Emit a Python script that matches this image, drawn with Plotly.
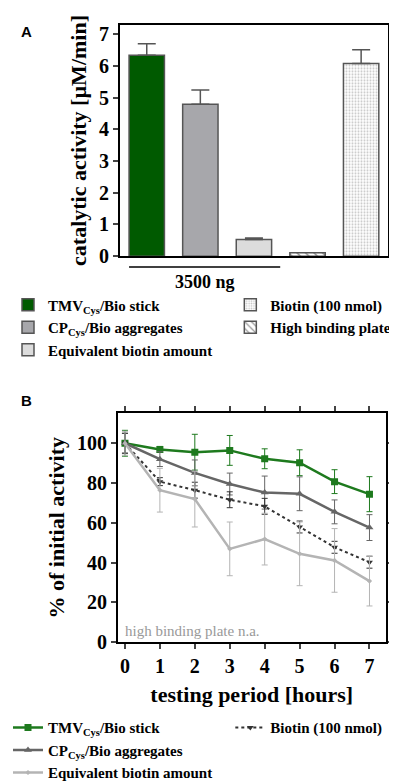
import plotly.graph_objects as go

# panel A: bars
bar_names = ['TMV<sub>Cys</sub>/Bio stick', 'CP<sub>Cys</sub>/Bio aggregates',
             'Equivalent biotin amount', 'High binding plate', 'Biotin (100 nmol)']
bar_values = [6.34, 4.79, 0.53, 0.11, 6.08]
bar_errors = [0.36, 0.45, 0.04, 0.0, 0.43]
bar_legends = ['legend', 'legend', 'legend', 'legend3', 'legend3']
bar_ranks = [1, 2, 3, 2, 1]

# panel B: time course
hours = [0, 1, 2, 3, 4, 5, 6, 7]
tmv = [100, 96.9, 95.5, 96.4, 92.2, 90.2, 80.7, 74.4]
tmv_err = [6.5, 1.5, 9, 7.5, 5, 6.5, 6, 8.8]
cp = [100, 92, 85.1, 79.5, 75.2, 74.6, 65.5, 57.6]
cp_err = [5, 3.7, 6.5, 5.5, 8.3, 8.5, 6, 6.5]
biotin = [100, 80.7, 76.4, 71.6, 68.3, 57.9, 47.7, 40.2]
biotin_err = [5, 2, 4, 4, 4, 3, 3, 3]
equiv = [100, 76.4, 71.9, 46.9, 51.8, 44.4, 41.1, 30.7]
equiv_err = [6, 11, 14, 13.5, 13, 16, 16, 12.5]

serif = 'Liberation Serif'
fig = go.Figure()

fills = [dict(color='#005a00'), dict(color='#a7a7ab'), dict(color='#dcdcdc'),
         dict(color='white', pattern=dict(shape='\\', fgcolor='#222', size=6, solidity=0.25)),
         dict(color='white', pattern=dict(shape='.', fgcolor='#8a8a8a', bgcolor='white', size=3, solidity=0.35))]

for i, name in enumerate(bar_names):
    m = fills[i]
    m['line'] = dict(color='#555555', width=1.5)
    fig.add_trace(go.Bar(
        x=[i], y=[bar_values[i]], name=name, marker=m, width=0.66,
        error_y=dict(type='data', symmetric=False, array=[bar_errors[i]], arrayminus=[0],
                     color='#555555', thickness=1.5, width=9,
                     visible=bar_errors[i] > 0),
        legend=bar_legends[i], legendrank=bar_ranks[i], xaxis='x', yaxis='y'))

lines = [
    ('TMV<sub>Cys</sub>/Bio stick', tmv, tmv_err, '#1e7a1e', 'solid', 'square', 7, 'legend2', 1),
    ('CP<sub>Cys</sub>/Bio aggregates', cp, cp_err, '#666666', 'solid', 'triangle-up', 7, 'legend2', 2),
    ('Biotin (100 nmol)', biotin, biotin_err, '#333333', 'dot', 'triangle-down', 6, 'legend4', 1),
    ('Equivalent biotin amount', equiv, equiv_err, '#b4b4b4', 'solid', 'diamond', 4, 'legend2', 3),
]
for name, vals, errs, col, dash, sym, size, leg, rank in lines:
    fig.add_trace(go.Scatter(
        x=hours, y=vals, name=name, mode='lines+markers',
        line=dict(color=col, width=2.5 if dash == 'solid' else 2, dash=dash),
        marker=dict(symbol=sym, size=size, color=col),
        error_y=dict(type='data', array=errs, color=col, thickness=1, width=3),
        legend=leg, legendrank=rank, xaxis='x2', yaxis='y2'))

axis_font = dict(family=serif, size=20, color='black', weight='bold')
title_font = dict(family=serif, size=22, color='black', weight='bold')
leg_font = dict(family=serif, size=15, color='black', weight='bold')

fig.update_layout(
    width=397, height=782, margin=dict(l=0, r=0, t=0, b=0),
    paper_bgcolor='white', plot_bgcolor='white',
    barmode='overlay', showlegend=True,
    xaxis=dict(domain=[0.282, 0.957], range=[-0.5, 4.5], showticklabels=False,
               ticks='', showline=True, linecolor='black', linewidth=2, mirror=True,
               showgrid=False, zeroline=False, anchor='y'),
    yaxis=dict(domain=[0.679, 0.9795], range=[0, 7.3], dtick=1, ticks='outside',
               ticklen=5, tickwidth=1.5, showline=True, linecolor='black', linewidth=2,
               mirror='ticks', showgrid=False, zeroline=False, tickfont=axis_font,
               title=dict(text='catalytic activity [µM/min]', font=title_font, standoff=6),
               anchor='x'),
    xaxis2=dict(domain=[0.277, 0.951], range=[-0.2, 7.46], dtick=1, ticks='outside',
                ticklen=5, tickwidth=1.5, showline=True, linecolor='black', linewidth=2,
                mirror='ticks', showgrid=False, zeroline=False, tickfont=axis_font,
                title=dict(text='testing period [hours]', font=title_font, standoff=10),
                anchor='y2'),
    yaxis2=dict(domain=[0.1777, 0.4748], range=[0, 115], tickvals=[0, 20, 40, 60, 80, 100],
                ticks='outside', ticklen=5, tickwidth=1.5, showline=True, linecolor='black',
                linewidth=2, mirror='ticks', showgrid=False, zeroline=False,
                tickfont=axis_font,
                title=dict(text='% of initial activity', font=title_font, standoff=6),
                anchor='x2'),
    legend=dict(x=0.0, y=0.637, xanchor='left', yanchor='top', itemwidth=30,
                font=leg_font, bgcolor='rgba(0,0,0,0)', tracegroupgap=0),
    legend3=dict(x=0.56, y=0.637, xanchor='left', yanchor='top', itemwidth=30,
                 font=leg_font, bgcolor='rgba(0,0,0,0)', tracegroupgap=0),
    legend2=dict(x=0.0, y=0.088, xanchor='left', yanchor='top', itemwidth=30,
                 font=leg_font, bgcolor='rgba(0,0,0,0)', tracegroupgap=0),
    legend4=dict(x=0.56, y=0.088, xanchor='left', yanchor='top', itemwidth=30,
                 font=leg_font, bgcolor='rgba(0,0,0,0)', tracegroupgap=0),
)

fig.add_shape(type='line', xref='x', yref='paper', x0=-0.33, x1=2.49, y0=0.665, y1=0.665,
              line=dict(color='black', width=1.5))
fig.add_annotation(text='3500 ng', xref='x', yref='paper', x=1.09, y=0.645, showarrow=False,
                   font=dict(family=serif, size=18, color='black', weight='bold'))
fig.add_annotation(text='high binding plate n.a.', xref='x2', yref='y2', x=-0.05, y=5.5,
                   xanchor='left', showarrow=False,
                   font=dict(family=serif, size=15, color='#999999'))
fig.add_annotation(text='<b>A</b>', xref='paper', yref='paper', x=0.027, y=0.984,
                   showarrow=False, font=dict(family='Liberation Sans', size=15, color='black'))
fig.add_annotation(text='<b>B</b>', xref='paper', yref='paper', x=0.027, y=0.492,
                   showarrow=False, font=dict(family='Liberation Sans', size=15, color='black'))

fig.write_html('out.html')
